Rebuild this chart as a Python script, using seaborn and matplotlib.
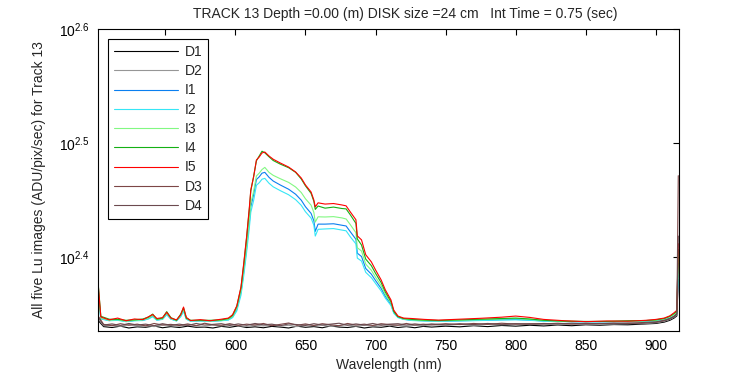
"""Lu spectra for track 13, redrawn with seaborn."""

import matplotlib
matplotlib.use("Agg")
import matplotlib.pyplot as plt
from matplotlib.ticker import FixedLocator, NullLocator
import pandas as pd
import seaborn as sns

TITLE = "TRACK 13 Depth =0.00 (m) DISK size =24 cm   Int Time = 0.75 (sec)"
XLABEL = "Wavelength (nm)"
YLABEL = "All five Lu images (ADU/pix/sec) for Track 13"

SERIES = ["D1", "D2", "I1", "I2", "I3", "I4", "I5", "D3", "D4"]
COLORS = {
    "D1": "#000000", "D2": "#969696", "I1": "#0a7ff0", "I2": "#36e6f6",
    "I3": "#82f882", "I4": "#14b014", "I5": "#ff0000", "D3": "#7d4646",
    "D4": "#6c4a4f",
}

# wavelength grid for the illuminated (I) images
wl_i = [502, 504, 510, 516, 522, 528, 534, 538, 541, 544,
        548, 551, 554, 558, 561, 563, 565, 568, 575, 582,
        590, 595, 598, 601, 604, 606, 608, 610, 611, 613,
        615, 617, 619, 621, 624, 627, 632, 638, 643, 647,
        650, 654, 656, 657, 659, 664, 670, 676, 679, 682,
        686, 687, 690, 693, 697, 700, 704, 707, 711, 713,
        716, 720, 726, 735, 745, 760, 775, 790, 800, 810,
        820, 835, 850, 865, 880, 893, 900, 906, 910, 913,
        915, 916]

i1 = [234.0, 221.8, 220.9, 221.2, 220.5, 220.9, 221.0, 221.8, 222.9, 221.2,
      221.5, 223.8, 221.6, 220.8, 222.9, 225.4, 221.6, 220.7, 220.8, 220.6,
      220.9, 221.3, 222.5,
      226.0, 233.9, 243.8, 255.5, 269.6, 277.9, 284.8, 293.7, 295.3, 297.5,
      298.0, 295.0, 292.8, 290.5, 288.0, 285.1, 281.7, 278.0, 274.3, 270.2,
      264.5, 268.4, 268.4, 268.6, 267.8, 267.4, 264.3, 260.3, 253.1, 251.4,
      245.4, 242.6, 239.5, 235.7, 231.9, 228.3, 224.6, 222.4, 221.5,
      221.0, 220.8, 220.6, 220.8, 221.0, 221.3, 221.4, 221.1, 220.7, 220.5,
      220.3, 220.4, 220.5, 220.6, 220.8, 221.2, 222.0, 223.0, 224.0, 248.0]

i2 = [233.0, 221.6, 220.8, 221.0, 220.4, 220.8, 220.9, 221.6, 222.6, 221.0,
      221.4, 223.5, 221.5, 220.7, 222.6, 225.0, 221.5, 220.6, 220.7, 220.5,
      220.8, 221.1, 222.2,
      225.2, 232.5, 242.0, 253.5, 266.8, 274.9, 281.5, 290.3, 291.8, 293.9,
      294.4, 291.5, 289.4, 287.2, 284.8, 282.0, 278.8, 275.2, 271.7, 267.8,
      262.0, 265.6, 265.8, 266.0, 265.2, 264.8, 261.6, 257.9, 250.6, 249.1,
      243.5, 240.9, 238.1, 234.5, 231.1, 227.7, 224.2, 222.2, 221.4,
      220.9, 220.7, 220.5, 220.7, 220.9, 221.1, 221.2, 221.0, 220.6, 220.4,
      220.3, 220.3, 220.4, 220.5, 220.7, 221.1, 221.8, 222.8, 223.8, 246.0]

i3 = [236.0, 222.0, 221.0, 221.3, 220.6, 221.0, 221.2, 222.0, 223.2, 221.3,
      221.7, 224.2, 221.8, 220.9, 223.2, 226.0, 221.8, 220.8, 220.9, 220.7,
      221.0, 221.5, 222.8,
      226.5, 234.6, 245.1, 256.9, 271.4, 279.9, 286.7, 295.8, 297.5, 299.7,
      301.0, 298.0, 296.2, 294.2, 292.0, 289.3, 286.1, 282.5, 278.9, 274.8,
      269.5, 272.4, 272.3, 272.5, 271.8, 271.2, 268.1, 263.8, 255.9, 254.2,
      247.6, 244.5, 241.1, 237.0, 232.9, 228.9, 224.9, 222.6, 221.6,
      221.2, 220.9, 220.8, 221.0, 221.3, 221.6, 221.8, 221.4, 220.9, 220.6,
      220.4, 220.5, 220.6, 220.8, 221.0, 221.6, 222.5, 223.6, 224.6, 252.0]

i4 = [239.0, 222.8, 221.5, 221.4, 221.0, 221.2, 221.6, 222.4, 223.8, 221.5,
      222.0, 224.9, 222.2, 221.0, 223.8, 226.6, 222.0, 221.0, 221.0, 221.0,
      221.2, 221.8, 223.2,
      227.3, 236.0, 247.5, 261.0, 277.0, 287.0, 295.5, 305.0, 308.0, 311.0,
      310.0, 307.5, 305.2, 303.0, 300.8, 298.0, 294.0, 290.0, 285.6, 281.0,
      276.5, 278.4, 277.2, 277.8, 277.0, 276.8, 273.5, 268.8, 260.5, 257.3,
      250.1, 246.8, 243.0, 238.5, 234.0, 229.5, 225.0, 222.6, 221.8,
      221.4, 221.1, 220.9, 221.2, 221.5, 221.8, 222.0, 221.6, 221.0, 220.6,
      220.5, 220.5, 220.8, 220.9, 221.2, 221.8, 222.8, 224.0, 225.0, 255.0]

i5 = [238.5, 222.5, 221.2, 222.0, 220.8, 221.6, 221.3, 222.6, 223.6, 221.8,
      222.2, 224.6, 222.0, 221.2, 223.5, 227.0, 222.3, 220.9, 221.3, 220.8,
      221.5, 222.0, 223.5,
      227.5, 236.4, 248.2, 261.6, 277.9, 287.6, 295.2, 305.5, 307.4, 309.9,
      310.5, 308.0, 306.0, 303.7, 301.2, 298.2, 294.6, 290.5, 286.4, 281.8,
      277.9, 280.2, 279.5, 279.8, 279.0, 278.5, 275.1, 270.8, 262.1, 260.0,
      252.3, 248.7, 244.7, 239.8, 235.0, 230.3, 225.6, 222.9, 222.0,
      221.8, 221.4, 221.1, 221.5, 221.9, 222.4, 222.9, 222.3, 221.4, 220.8,
      220.4, 220.7, 220.6, 221.0, 221.4, 222.0, 223.0, 224.4, 225.5, 258.0]

# wavelength grid for the dark (D) images
wl_d = [502, 506, 512, 518, 524, 530, 536, 542, 548, 554,
        560, 566, 572, 578, 584, 590, 596, 602, 608, 614,
        620, 626, 632, 638, 644, 650, 656, 662, 668, 674,
        680, 686, 692, 698, 704, 710, 716, 722, 728, 734,
        740, 750, 760, 770, 780, 790, 800, 810, 820, 830,
        840, 850, 860, 870, 880, 890, 900, 906, 910, 913,
        915, 916]

d1 = [221.0, 218.2, 217.8, 218.4, 217.6, 218.1, 217.9, 218.5, 217.7, 218.2,
      217.8, 218.4, 217.9, 218.0, 217.6, 218.3, 217.9, 218.5, 217.8, 218.1,
      217.7, 218.3, 218.0, 217.6, 218.4, 217.9, 218.2, 217.7, 218.5, 218.0,
      217.8, 218.3, 217.6, 218.1, 217.9, 218.4, 217.8, 218.2, 217.7, 218.3,
      218.0, 218.4, 218.1, 218.6, 218.2, 218.7, 218.4, 218.8, 218.5, 218.9,
      218.6, 219.0, 218.8, 219.1, 219.0, 219.3, 219.6, 220.2, 221.0, 222.0,
      223.0, 240.0]

d2 = [222.0, 218.6, 218.9, 218.3, 219.1, 218.5, 218.8, 218.2, 219.0, 218.6,
      218.4, 219.1, 218.7, 218.3, 218.9, 218.5, 219.2, 218.6, 218.3, 218.9,
      218.5, 219.0, 218.4, 218.8, 218.2, 219.1, 218.6, 218.9, 218.3, 218.7,
      219.0, 218.4, 218.8, 218.5, 219.1, 218.6, 218.9, 218.4, 218.8, 218.6,
      219.0, 218.7, 219.2, 218.8, 219.3, 219.0, 219.4, 219.1, 219.3, 219.0,
      219.4, 219.2, 219.5, 219.3, 219.6, 219.5, 219.9, 220.6, 221.4, 222.4,
      223.6, 242.0]

d3 = [223.0, 219.2, 218.6, 219.5, 218.8, 219.3, 218.5, 219.6, 218.9, 219.2,
      218.7, 219.4, 218.6, 219.7, 219.0, 218.8, 219.5, 218.7, 219.3, 218.9,
      219.6, 218.6, 219.2, 219.8, 218.8, 219.4, 218.7, 219.5, 219.0, 218.6,
      219.6, 218.9, 219.3, 218.7, 219.5, 219.1, 218.8, 219.6, 218.9, 219.3,
      219.0, 219.5, 219.1, 219.6, 219.2, 219.7, 219.3, 219.5, 219.4, 219.7,
      219.3, 219.6, 219.5, 219.8, 219.6, 220.0, 220.3, 221.0, 221.8, 222.8,
      224.0, 296.0]

d4 = [222.5, 218.9, 219.4, 218.7, 219.6, 218.9, 219.3, 218.6, 219.5, 218.8,
      219.3, 218.7, 219.6, 218.9, 219.2, 219.5, 218.7, 219.4, 218.8, 219.6,
      219.0, 219.3, 218.6, 219.4, 219.1, 218.7, 219.5, 218.9, 219.3, 219.7,
      218.8, 219.4, 218.9, 219.6, 218.8, 219.3, 219.5, 218.9, 219.4, 219.0,
      219.4, 219.0, 219.5, 219.1, 219.6, 219.2, 219.5, 219.3, 219.6, 219.4,
      219.7, 219.4, 219.6, 219.5, 219.8, 219.7, 220.1, 220.8, 221.6, 222.6,
      223.8, 262.0]

X_TICKS = [550, 600, 650, 700, 750, 800, 850, 900]
Y_EXPONENTS = [2.4, 2.5, 2.6]


def build_frame() -> pd.DataFrame:
    """Stack all series into one long table."""
    parts = {
        "D1": (wl_d, d1), "D2": (wl_d, d2), "I1": (wl_i, i1), "I2": (wl_i, i2),
        "I3": (wl_i, i3), "I4": (wl_i, i4), "I5": (wl_i, i5),
        "D3": (wl_d, d3), "D4": (wl_d, d4),
    }
    frames = [pd.DataFrame({"wavelength": x, "value": y, "series": name})
              for name, (x, y) in parts.items()]
    return pd.concat(frames, ignore_index=True)


def main() -> None:
    sns.set_style("white")
    plt.rcParams["font.family"] = ["Liberation Sans", "DejaVu Sans"]
    plt.rcParams["mathtext.fontset"] = "custom"
    plt.rcParams["mathtext.rm"] = "Liberation Sans"
    plt.rcParams["mathtext.default"] = "regular"

    df = build_frame()
    fig = plt.figure(figsize=(7.5, 3.75), dpi=100)
    ax = fig.add_axes([0.1307, 0.1173, 0.7746, 0.8054])

    sns.lineplot(data=df, x="wavelength", y="value", hue="series",
                 hue_order=SERIES, palette=COLORS, estimator=None, sort=False,
                 linewidth=0.8, ax=ax)

    ax.set_yscale("log")
    ax.set_xlim(502, 916.5)
    ax.set_ylim(10 ** 2.335, 10 ** 2.6)
    ax.xaxis.set_major_locator(FixedLocator(X_TICKS))
    ax.yaxis.set_major_locator(FixedLocator([10 ** e for e in Y_EXPONENTS]))
    ax.yaxis.set_minor_locator(NullLocator())
    ax.set_yticklabels([f"$10^{{{e}}}$" for e in Y_EXPONENTS])
    ax.tick_params(direction="in", top=True, right=True, length=4.5,
                   width=0.8, labelsize=10, colors="black", pad=6)
    for spine in ax.spines.values():
        spine.set_color("black")
        spine.set_linewidth(0.8)

    ax.set_xlabel(XLABEL, fontsize=10, va="top")
    ax.xaxis.set_label_coords(0.5, -0.088)
    ax.set_ylabel(YLABEL, fontsize=10)
    ax.yaxis.set_label_coords(-0.09, 0.5)
    fig.text(405 / 750, 1 - 14 / 375, TITLE, fontsize=10, ha="center", va="center")

    leg = ax.legend(loc="upper left", fontsize=10, handlelength=4.6,
                    handletextpad=0.5, labelspacing=0.38, borderpad=0.42,
                    borderaxespad=0.72, fancybox=False, framealpha=1,
                    edgecolor="black")
    leg.get_frame().set_linewidth(0.8)

    fig.savefig("out.png", dpi=100)


if __name__ == "__main__":
    main()
